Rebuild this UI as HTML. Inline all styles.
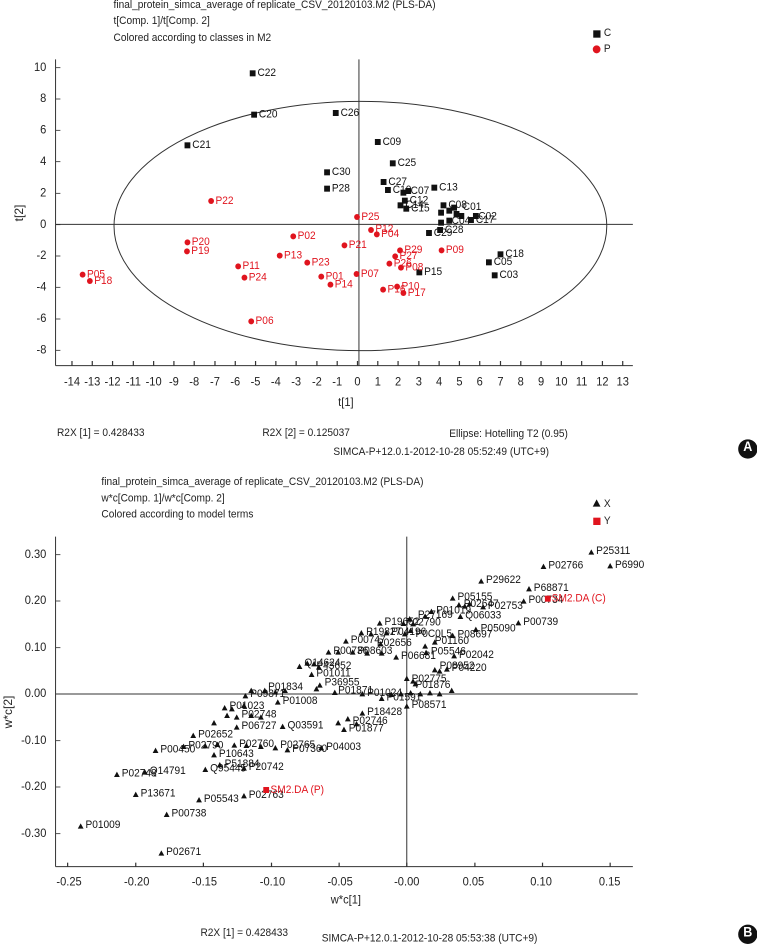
<!DOCTYPE html>
<html><head><meta charset="utf-8"><style>
html,body{margin:0;padding:0;background:#fff;}
svg{display:block;}
text{font-family:"Liberation Sans Narrow","Liberation Sans",sans-serif;}
g.s text{transform-box:fill-box;transform-origin:0 100%;transform:scaleY(1.571);}
g.s text[text-anchor="middle"],g.s g[text-anchor="middle"] text{transform-origin:50% 100%;}
g.s text[text-anchor="end"],g.s g[text-anchor="end"] text{transform-origin:100% 100%;}
</style></head><body>
<svg width="757" height="946" viewBox="0 0 757 946" xmlns="http://www.w3.org/2000/svg">
<rect width="757" height="946" fill="#fff"/>
<text x="23" y="213" font-size="12" text-anchor="middle" transform="rotate(-90 23 213)" fill="#222">t[2]</text>
<text x="12" y="712" font-size="12" text-anchor="middle" transform="rotate(-90 12 712)" fill="#222">w*c[2]</text>
<!-- PANEL A -->
<g class="s" transform="scale(0.4831,0.33333)" font-size="21" fill="#222">
<text x="235" y="28">final_protein_simca_average of replicate_CSV_20120103.M2 (PLS-DA)</text>
<text x="235" y="76">t[Comp. 1]/t[Comp. 2]</text>
<text x="235" y="126">Colored according to classes in M2</text>
<rect x="1228" y="91" width="15" height="22" fill="#111"/><text x="1250" y="112">C</text>
<ellipse cx="1235" cy="148" rx="8" ry="12" fill="#e0141e"/><text x="1250" y="160">P</text>
<g stroke="#333" stroke-width="1" fill="none" vector-effect="non-scaling-stroke">
<line x1="115" y1="178" x2="115" y2="1097" vector-effect="non-scaling-stroke"/>
<line x1="115" y1="1097" x2="1310" y2="1097" vector-effect="non-scaling-stroke"/>
<line x1="743" y1="178" x2="743" y2="1097" vector-effect="non-scaling-stroke"/>
<line x1="115" y1="673" x2="1310" y2="673" vector-effect="non-scaling-stroke"/>
<ellipse cx="746" cy="678" rx="510" ry="374" vector-effect="non-scaling-stroke"/>
</g>
<g stroke="#333" stroke-width="2.5">
<line x1="149" y1="1083" x2="149" y2="1097"/><line x1="191" y1="1083" x2="191" y2="1097"/><line x1="233" y1="1083" x2="233" y2="1097"/><line x1="276" y1="1083" x2="276" y2="1097"/><line x1="318" y1="1083" x2="318" y2="1097"/><line x1="360" y1="1083" x2="360" y2="1097"/><line x1="402" y1="1083" x2="402" y2="1097"/><line x1="445" y1="1083" x2="445" y2="1097"/><line x1="487" y1="1083" x2="487" y2="1097"/><line x1="529" y1="1083" x2="529" y2="1097"/><line x1="571" y1="1083" x2="571" y2="1097"/><line x1="613" y1="1083" x2="613" y2="1097"/><line x1="656" y1="1083" x2="656" y2="1097"/><line x1="698" y1="1083" x2="698" y2="1097"/><line x1="740" y1="1083" x2="740" y2="1097"/><line x1="782" y1="1083" x2="782" y2="1097"/><line x1="824" y1="1083" x2="824" y2="1097"/><line x1="867" y1="1083" x2="867" y2="1097"/><line x1="909" y1="1083" x2="909" y2="1097"/><line x1="951" y1="1083" x2="951" y2="1097"/><line x1="993" y1="1083" x2="993" y2="1097"/><line x1="1036" y1="1083" x2="1036" y2="1097"/><line x1="1078" y1="1083" x2="1078" y2="1097"/><line x1="1120" y1="1083" x2="1120" y2="1097"/><line x1="1162" y1="1083" x2="1162" y2="1097"/><line x1="1204" y1="1083" x2="1204" y2="1097"/><line x1="1247" y1="1083" x2="1247" y2="1097"/><line x1="1289" y1="1083" x2="1289" y2="1097"/>
<line x1="115" y1="203" x2="125" y2="203"/><line x1="115" y1="297" x2="125" y2="297"/><line x1="115" y1="391" x2="125" y2="391"/><line x1="115" y1="485" x2="125" y2="485"/><line x1="115" y1="580" x2="125" y2="580"/><line x1="115" y1="674" x2="125" y2="674"/><line x1="115" y1="768" x2="125" y2="768"/><line x1="115" y1="862" x2="125" y2="862"/><line x1="115" y1="957" x2="125" y2="957"/><line x1="115" y1="1051" x2="125" y2="1051"/>
</g>
<g text-anchor="middle" font-size="23">
<text x="149" y="1160">-14</text><text x="191" y="1160">-13</text><text x="233" y="1160">-12</text><text x="276" y="1160">-11</text><text x="318" y="1160">-10</text><text x="360" y="1160">-9</text><text x="402" y="1160">-8</text><text x="445" y="1160">-7</text><text x="487" y="1160">-6</text><text x="529" y="1160">-5</text><text x="571" y="1160">-4</text><text x="613" y="1160">-3</text><text x="656" y="1160">-2</text><text x="698" y="1160">-1</text><text x="740" y="1160">0</text><text x="782" y="1160">1</text><text x="824" y="1160">2</text><text x="867" y="1160">3</text><text x="909" y="1160">4</text><text x="951" y="1160">5</text><text x="993" y="1160">6</text><text x="1036" y="1160">7</text><text x="1078" y="1160">8</text><text x="1120" y="1160">9</text><text x="1162" y="1160">10</text><text x="1204" y="1160">11</text><text x="1247" y="1160">12</text><text x="1289" y="1160">13</text>
<text x="716" y="1222">t[1]</text>
</g>
<g text-anchor="end" font-size="23">
<text x="96" y="216">10</text><text x="96" y="310">8</text><text x="96" y="404">6</text><text x="96" y="498">4</text><text x="96" y="593">2</text><text x="96" y="687">0</text><text x="96" y="781">-2</text><text x="96" y="875">-4</text><text x="96" y="970">-6</text><text x="96" y="1064">-8</text>
</g>
<g fill="#111">
<rect x="517" y="211" width="12" height="18"/><rect x="520" y="335" width="12" height="18"/><rect x="689" y="330" width="12" height="18"/><rect x="382" y="427" width="12" height="18"/><rect x="776" y="417" width="12" height="18"/><rect x="807" y="481" width="12" height="18"/><rect x="671" y="508" width="12" height="18"/><rect x="671" y="557" width="12" height="18"/><rect x="788" y="537" width="12" height="18"/><rect x="893" y="554" width="12" height="18"/><rect x="797" y="561" width="12" height="18"/><rect x="829" y="569" width="12" height="18"/><rect x="839" y="564" width="12" height="18"/><rect x="832" y="593" width="12" height="18"/><rect x="823" y="607" width="12" height="18"/><rect x="835" y="617" width="12" height="18"/><rect x="912" y="607" width="12" height="18"/><rect x="934" y="614" width="12" height="18"/><rect x="924" y="623" width="12" height="18"/><rect x="907" y="629" width="12" height="18"/><rect x="939" y="633" width="12" height="18"/><rect x="949" y="639" width="12" height="18"/><rect x="979" y="639" width="12" height="18"/><rect x="969" y="651" width="12" height="18"/><rect x="907" y="659" width="12" height="18"/><rect x="924" y="653" width="12" height="18"/><rect x="882" y="690" width="12" height="18"/><rect x="905" y="681" width="12" height="18"/><rect x="1030" y="754" width="12" height="18"/><rect x="1006" y="778" width="12" height="18"/><rect x="1018" y="817" width="12" height="18"/><rect x="862" y="808" width="12" height="18"/>
<text x="533" y="232">C22</text><text x="536" y="356">C20</text><text x="705" y="351">C26</text><text x="398" y="448">C21</text><text x="792" y="438">C09</text><text x="823" y="502">C25</text><text x="687" y="529">C30</text><text x="687" y="578">P28</text><text x="804" y="558">C27</text><text x="909" y="575">C13</text><text x="813" y="582">C10</text><text x="850" y="586">C07</text><text x="848" y="614">C12</text><text x="839" y="628">C14</text><text x="851" y="638">C15</text><text x="928" y="628">C08</text><text x="958" y="634">C01</text><text x="990" y="662">C02</text><text x="985" y="672">C17</text><text x="935" y="675">C04</text><text x="898" y="711">C29</text><text x="921" y="702">C28</text><text x="1046" y="775">C18</text><text x="1022" y="799">C05</text><text x="1034" y="838">C03</text><text x="878" y="829">P15</text>
</g>
<g fill="#e0141e">
<ellipse cx="437" cy="603" rx="6" ry="9"/><ellipse cx="739" cy="651" rx="6" ry="9"/><ellipse cx="768" cy="690" rx="6" ry="9"/><ellipse cx="780" cy="703" rx="6" ry="9"/><ellipse cx="607" cy="709" rx="6" ry="9"/><ellipse cx="388" cy="727" rx="6" ry="9"/><ellipse cx="387" cy="754" rx="6" ry="9"/><ellipse cx="713" cy="736" rx="6" ry="9"/><ellipse cx="828" cy="751" rx="6" ry="9"/><ellipse cx="914" cy="751" rx="6" ry="9"/><ellipse cx="818" cy="769" rx="6" ry="9"/><ellipse cx="579" cy="767" rx="6" ry="9"/><ellipse cx="636" cy="788" rx="6" ry="9"/><ellipse cx="806" cy="791" rx="6" ry="9"/><ellipse cx="830" cy="803" rx="6" ry="9"/><ellipse cx="493" cy="799" rx="6" ry="9"/><ellipse cx="171" cy="824" rx="6" ry="9"/><ellipse cx="186" cy="843" rx="6" ry="9"/><ellipse cx="506" cy="833" rx="6" ry="9"/><ellipse cx="665" cy="830" rx="6" ry="9"/><ellipse cx="738" cy="822" rx="6" ry="9"/><ellipse cx="684" cy="854" rx="6" ry="9"/><ellipse cx="822" cy="860" rx="6" ry="9"/><ellipse cx="793" cy="869" rx="6" ry="9"/><ellipse cx="835" cy="879" rx="6" ry="9"/><ellipse cx="520" cy="964" rx="6" ry="9"/>
<text x="446" y="615">P22</text><text x="748" y="663">P25</text><text x="777" y="700">P12</text><text x="789" y="714">P04</text><text x="616" y="721">P02</text><text x="397" y="739">P20</text><text x="396" y="766">P19</text><text x="722" y="748">P21</text><text x="837" y="763">P29</text><text x="923" y="763">P09</text><text x="827" y="781">P27</text><text x="588" y="779">P13</text><text x="645" y="800">P23</text><text x="815" y="803">P26</text><text x="839" y="815">P08</text><text x="502" y="811">P11</text><text x="180" y="836">P05</text><text x="195" y="855">P18</text><text x="515" y="845">P24</text><text x="674" y="842">P01</text><text x="747" y="834">P07</text><text x="693" y="866">P14</text><text x="831" y="872">P10</text><text x="802" y="881">P16</text><text x="844" y="891">P17</text><text x="529" y="976">P06</text>
</g>
<text x="118" y="1312">R2X [1] = 0.428433</text>
<text x="543" y="1312">R2X [2] = 0.125037</text>
<text x="930" y="1314">Ellipse: Hotelling T2 (0.95)</text>
<text x="690" y="1369">SIMCA-P+12.0.1-2012-10-28 05:52:49 (UTC+9)</text>
<ellipse cx="1548" cy="1347" rx="20" ry="29" fill="#111"/><text x="1548" y="1357" fill="#fff" font-size="26" font-weight="bold" text-anchor="middle" font-family="Liberation Sans">A</text>
</g>
<!-- PANEL B -->
<g class="s" transform="translate(0,470) scale(0.4831,0.33333)" font-size="21" fill="#222">
<text x="210" y="48">final_protein_simca_average of replicate_CSV_20120103.M2 (PLS-DA)</text>
<text x="210" y="98">w*c[Comp. 1]/w*c[Comp. 2]</text>
<text x="210" y="146">Colored according to model terms</text>
<path d="M1235,88 l8,22 h-16z" fill="#111"/><text x="1250" y="114">X</text>
<rect x="1228" y="143" width="15" height="22" fill="#e0141e"/><text x="1250" y="166">Y</text>
<g stroke="#333" stroke-width="1" fill="none">
<line x1="115" y1="200" x2="115" y2="1190" vector-effect="non-scaling-stroke"/>
<line x1="115" y1="1190" x2="1310" y2="1190" vector-effect="non-scaling-stroke"/>
<line x1="842" y1="200" x2="842" y2="1190" vector-effect="non-scaling-stroke"/>
<line x1="115" y1="672" x2="1320" y2="672" vector-effect="non-scaling-stroke"/>
</g>
<g stroke="#333" stroke-width="2.5">
<line x1="140" y1="1190" x2="140" y2="1178"/><line x1="281" y1="1190" x2="281" y2="1178"/><line x1="421" y1="1190" x2="421" y2="1178"/><line x1="562" y1="1190" x2="562" y2="1178"/><line x1="702" y1="1190" x2="702" y2="1178"/><line x1="842" y1="1190" x2="842" y2="1178"/><line x1="983" y1="1190" x2="983" y2="1178"/><line x1="1123" y1="1190" x2="1123" y2="1178"/><line x1="1263" y1="1190" x2="1263" y2="1178"/>
<line x1="115" y1="254" x2="125" y2="254"/><line x1="115" y1="393" x2="125" y2="393"/><line x1="115" y1="533" x2="125" y2="533"/><line x1="115" y1="672" x2="125" y2="672"/><line x1="115" y1="812" x2="125" y2="812"/><line x1="115" y1="951" x2="125" y2="951"/><line x1="115" y1="1091" x2="125" y2="1091"/>
</g>
<g text-anchor="middle" font-size="23">
<text x="143" y="1250">-0.25</text><text x="283" y="1250">-0.20</text><text x="423" y="1250">-0.15</text><text x="564" y="1250">-0.10</text><text x="704" y="1250">-0.05</text><text x="842" y="1250">-0.00</text><text x="980" y="1250">0.05</text><text x="1120" y="1250">0.10</text><text x="1262" y="1250">0.15</text>
<text x="716" y="1304">w*c[1]</text>
</g>
<g text-anchor="end" font-size="23">
<text x="96" y="267">0.30</text><text x="96" y="406">0.20</text><text x="96" y="546">0.10</text><text x="96" y="685">0.00</text><text x="96" y="825">-0.10</text><text x="96" y="964">-0.20</text><text x="96" y="1104">-0.30</text>
</g>
<g fill="#111">
<path d="M1224,238l6,16h-12zM1263,279l6,16h-12zM1125,281l6,16h-12zM996,325l6,16h-12zM1095,348l6,16h-12zM1084,385l6,16h-12zM937,376l6,16h-12zM950,396l6,16h-12zM962,400l6,16h-12zM972,393l6,16h-12zM1000,402l6,16h-12zM893,416l6,16h-12zM880,430l6,16h-12zM953,431l6,16h-12zM786,451l6,16h-12zM835,452l6,16h-12zM848,438l6,16h-12zM855,453l6,16h-12zM1073,450l6,16h-12zM985,470l6,16h-12zM748,480l6,16h-12zM768,483l6,16h-12zM800,480l6,16h-12zM838,483l6,16h-12zM850,473l6,16h-12zM937,488l6,16h-12zM716,505l6,16h-12zM788,513l6,16h-12zM880,520l6,16h-12zM900,508l6,16h-12zM882,539l6,16h-12zM940,549l6,16h-12zM820,553l6,16h-12zM680,538l6,16h-12zM700,538l6,16h-12zM730,538l6,16h-12zM760,541l6,16h-12zM790,541l6,16h-12zM900,591l6,16h-12zM910,595l6,16h-12zM925,589l6,16h-12zM620,581l6,16h-12zM636,571l6,16h-12zM650,573l6,16h-12zM660,583l6,16h-12zM645,605l6,16h-12zM520,653l6,16h-12zM548,653l6,16h-12zM570,658l6,16h-12zM590,653l6,16h-12zM662,637l6,16h-12zM655,648l6,16h-12zM693,659l6,16h-12zM750,663l6,16h-12zM790,677l6,16h-12zM810,665l6,16h-12zM830,663l6,16h-12zM850,660l6,16h-12zM870,663l6,16h-12zM890,660l6,16h-12zM910,663l6,16h-12zM935,653l6,16h-12zM842,617l6,16h-12zM855,625l6,16h-12zM860,633l6,16h-12zM842,700l6,16h-12zM575,688l6,16h-12zM508,669l6,16h-12zM465,705l6,16h-12zM480,708l6,16h-12zM505,698l6,16h-12zM470,728l6,16h-12zM490,733l6,16h-12zM520,728l6,16h-12zM540,733l6,16h-12zM490,763l6,16h-12zM585,761l6,16h-12zM443,750l6,16h-12zM400,788l6,16h-12zM750,721l6,16h-12zM720,738l6,16h-12zM738,753l6,16h-12zM700,750l6,16h-12zM712,770l6,16h-12zM322,833l6,16h-12zM380,821l6,16h-12zM425,819l6,16h-12zM450,815l6,16h-12zM485,817l6,16h-12zM510,818l6,16h-12zM540,821l6,16h-12zM570,825l6,16h-12zM595,831l6,16h-12zM665,825l6,16h-12zM443,846l6,16h-12zM455,876l6,16h-12zM505,886l6,16h-12zM425,890l6,16h-12zM300,898l6,16h-12zM242,905l6,16h-12zM281,965l6,16h-12zM412,981l6,16h-12zM505,969l6,16h-12zM345,1025l6,16h-12zM167,1060l6,16h-12zM334,1141l6,16h-12z"/>
<text x="1234" y="256">P25311</text><text x="1273" y="297">P6990</text><text x="1135" y="299">P02766</text><text x="1006" y="343">P29622</text><text x="1105" y="366">P68871</text><text x="1094" y="403">P00734</text><text x="947" y="394">P05155</text><text x="960" y="414">P02647</text><text x="1010" y="420">P02753</text><text x="903" y="434">P01019</text><text x="865" y="448">P27169</text><text x="963" y="449">Q06033</text><text x="796" y="469">P19652</text><text x="840" y="470">P02790</text><text x="1083" y="468">P00739</text><text x="995" y="488">P05090</text><text x="758" y="498">P19827</text><text x="810" y="498">P04196</text><text x="860" y="505">P0C0L5</text><text x="947" y="506">P08697</text><text x="726" y="523">P00747</text><text x="780" y="531">P02656</text><text x="900" y="526">P01160</text><text x="892" y="557">P05546</text><text x="950" y="567">P02042</text><text x="830" y="571">P06681</text><text x="690" y="556">P00736</text><text x="740" y="556">P08603</text><text x="910" y="600">P08952</text><text x="935" y="606">P04220</text><text x="630" y="592">Q14624</text><text x="655" y="601">P43652</text><text x="655" y="623">P01011</text><text x="672" y="650">P36955</text><text x="700" y="674">P01871</text><text x="760" y="681">P01024</text><text x="800" y="695">P01591</text><text x="852" y="640">P02775</text><text x="860" y="658">P01876</text><text x="852" y="718">P08571</text><text x="585" y="706">P01008</text><text x="518" y="684">P09871</text><text x="555" y="664">P01834</text><text x="475" y="720">P01023</text><text x="500" y="746">P02748</text><text x="500" y="781">P06727</text><text x="595" y="779">Q03591</text><text x="410" y="806">P02652</text><text x="760" y="739">P18428</text><text x="730" y="766">P02746</text><text x="722" y="788">P01877</text><text x="332" y="851">P00450</text><text x="390" y="839">P02790</text><text x="495" y="835">P02760</text><text x="580" y="838">P02765</text><text x="605" y="849">P07360</text><text x="675" y="843">P04003</text><text x="453" y="864">P10643</text><text x="465" y="894">P51884</text><text x="515" y="904">P20742</text><text x="435" y="908">Q95445</text><text x="310" y="916">Q14791</text><text x="252" y="923">P02748</text><text x="291" y="983">P13671</text><text x="422" y="999">P05543</text><text x="515" y="987">P02763</text><text x="355" y="1043">P00738</text><text x="177" y="1078">P01009</text><text x="344" y="1159">P02671</text>
</g>
<g fill="#e0141e">
<rect x="1128" y="377" width="12" height="18"/><text x="1142" y="398">SM2.DA (C)</text>
<rect x="545" y="951" width="12" height="18"/><text x="560" y="972">SM2.DA (P)</text>
</g>
<text x="415" y="1402">R2X [1] = 0.428433</text>
<text x="666" y="1418">SIMCA-P+12.0.1-2012-10-28 05:53:38 (UTC+9)</text>
<ellipse cx="1548" cy="1393" rx="20" ry="29" fill="#111"/><text x="1548" y="1403" fill="#fff" font-size="26" font-weight="bold" text-anchor="middle" font-family="Liberation Sans">B</text>
</g>
</svg>
</body></html>
